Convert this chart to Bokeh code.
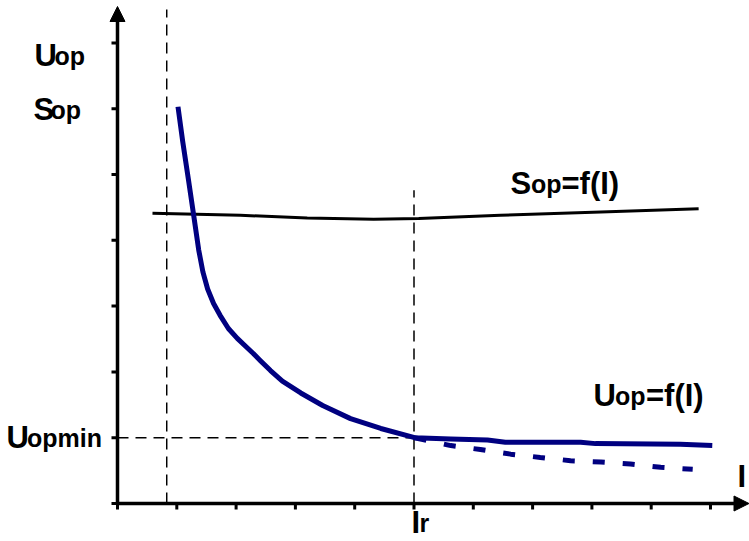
from bokeh.plotting import figure
from bokeh.models import Range1d, Label, Arrow, NormalHead
from bokeh.embed import file_html
from bokeh.resources import INLINE

# ---- data (axis units: I along x, U/S along y) ----
sop_I = [0.59, 2.07, 3.20, 4.32, 5.08, 6.46, 8.15, 9.80]
sop_val = [4.41, 4.38, 4.34, 4.32, 4.33, 4.38, 4.43, 4.48]

uop_I = [1.02, 1.10, 1.20, 1.28, 1.37, 1.44, 1.52, 1.62, 1.73, 1.87, 2.02, 2.16, 2.29, 2.41,
         2.58, 2.78, 3.09, 3.46, 3.93, 4.44, 5.01, 5.62, 6.24, 6.54, 7.81, 8.06, 9.49, 10.03]
uop_val = [6.03, 5.50, 4.90, 4.41, 3.85, 3.52, 3.26, 3.04, 2.86, 2.66, 2.51, 2.39, 2.28, 2.17,
           2.02, 1.86, 1.68, 1.49, 1.29, 1.14, 1.00, 0.98, 0.965, 0.93, 0.93, 0.91, 0.90, 0.88]

uopd_I = [5.01, 5.62, 6.12, 6.63, 7.13, 7.64, 8.15, 8.65, 9.16, 9.70]
uopd_val = [1.00, 0.88, 0.82, 0.75, 0.70, 0.65, 0.63, 0.60, 0.55, 0.52]

x_ticks = list(range(0, 11))
y_ticks = list(range(0, 8))
I_left = 0.83      # left vertical guide
I_r = 5            # rated current
U_opmin = 1        # minimum level
y_top_guide_r = 4.76

W, H = 749, 541
SX, SY = 59.3, 65.8          # px per unit
X0, Y0 = 117, 503            # pixel position of the origin
XMIN, XMAX = -X0 / SX, (W - X0) / SX
YMIN, YMAX = (Y0 - H) / SY, Y0 / SY

p = figure(width=W, height=H, output_backend="svg", toolbar_location=None,
           x_range=Range1d(XMIN, XMAX), y_range=Range1d(YMIN, YMAX),
           x_axis_location=None, y_axis_location=None,
           min_border=0, min_border_left=0, min_border_right=0,
           min_border_top=0, min_border_bottom=0)
p.outline_line_color = None
p.grid.visible = False
p.background_fill_color = "white"
p.border_fill_color = "white"

# axes (lines + ticks)
Y_TIP = (Y0 - 6) / SY
p.segment(x0=[0, 0], y0=[-1.5 / SY, 0], x1=[0, XMAX - 10 / SX], y1=[Y_TIP - 10 / SY, 0],
          line_color="black", line_width=3.5)
tk = 6
p.segment(x0=x_ticks, y0=[0] * len(x_ticks), x1=x_ticks, y1=[-tk / SY] * len(x_ticks),
          line_color="black", line_width=3)
p.segment(x0=[0] * len(y_ticks), y0=y_ticks, x1=[-tk / SX] * len(y_ticks), y1=y_ticks,
          line_color="black", line_width=3)

# guide dashed lines
p.segment(x0=[I_left, I_r, 0], y0=[0, 0, U_opmin], x1=[I_left, I_r, I_r],
          y1=[(Y0 - 9) / SY, y_top_guide_r, U_opmin],
          line_color="black", line_width=1.5, line_dash="11 7")

# curves
p.line(sop_I, sop_val, line_color="black", line_width=3)
p.line(uopd_I, uopd_val, line_color="#000080", line_width=5, line_dash="12 18")
p.line(uop_I, uop_val, line_color="#000080", line_width=5, line_join="round")

# axis arrows
p.add_layout(Arrow(end=NormalHead(size=15, fill_color="black", line_color="black", line_width=1),
                   x_start=0, y_start=Y_TIP - 1.0, x_end=0, y_end=Y_TIP,
                   line_width=0, line_alpha=0))
p.add_layout(Arrow(end=NormalHead(size=15, fill_color="black", line_color="black", line_width=1),
                   x_start=XMAX - 1.0, y_start=0, x_end=XMAX - 0.5 / SX, y_end=0,
                   line_width=0, line_alpha=0))

FONT = "Liberation Sans"
BIG, SMALL = "31px", "25px"
DY = -10   # baseline correction

def px2d(xp, yp):
    return (xp - X0) / SX, (Y0 - yp - DY) / SY

def lab(text, xp, yp, size):
    x, y = px2d(xp, yp)
    p.add_layout(Label(x=x, y=y, text=text, text_font=FONT, text_font_size=size,
                       text_font_style="bold", text_color="black",
                       text_align="left", text_baseline="alphabetic"))

# Uop
lab("U", 34, 65, BIG); lab("op", 54, 65, SMALL)
# Sop
lab("S", 33, 119, BIG); lab("op", 50, 119, SMALL)
# Uopmin
lab("U", 6, 447, BIG); lab("opmin", 26.5, 447, SMALL)
# Ir
lab("I", 411, 532, BIG); lab("r", 419, 532, SMALL)
# I (x axis)
lab("I", 737, 486, BIG)
# Sop=f(I)
lab("S", 510, 193, BIG); lab("op", 530.5, 193, SMALL); lab("=f(I)", 561, 193, BIG)
# Uop=f(I)
lab("U", 593, 405, BIG); lab("op", 614.5, 405, SMALL); lab("=f(I)", 645.5, 405, BIG)

open("out.html", "w").write(file_html(p, INLINE))
